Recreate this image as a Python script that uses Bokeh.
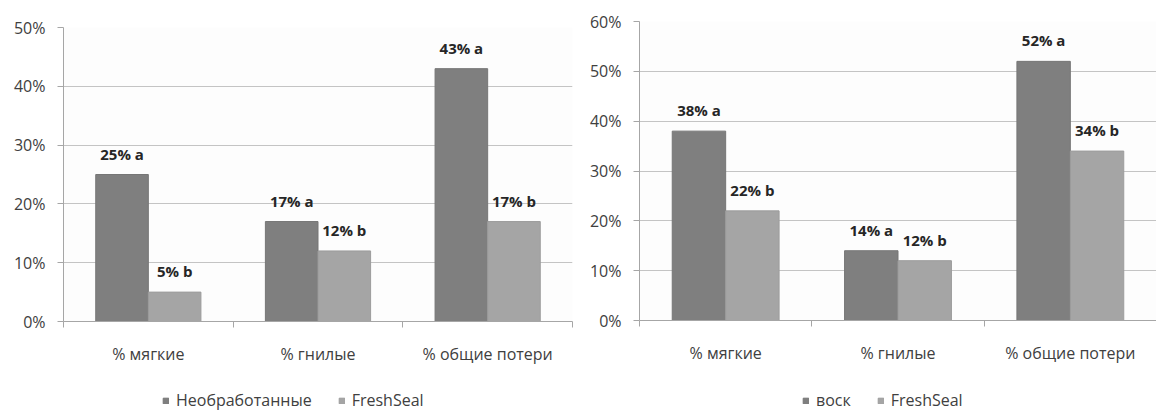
import numpy as np
from bokeh.plotting import figure
from bokeh.layouts import row, column
from bokeh.models import (ColumnDataSource, Range1d, FixedTicker, NumeralTickFormatter,
                          Legend, LegendItem)
from bokeh.embed import file_html
from bokeh.resources import INLINE
from bokeh.core.properties import value

categories = ["% мягкие", "% гнилые", "% общие потери"]

# Left chart
left_series = ["Необработанные", "FreshSeal"]
left_untreated = [0.25, 0.17, 0.43]
left_fresh = [0.05, 0.12, 0.17]
left_untreated_labels = ["25% a", "17% a", "43% a"]
left_fresh_labels = ["5% b", "12% b", "17% b"]
left_ymax = 0.5

# Right chart
right_series = ["воск", "FreshSeal"]
right_wax = [0.38, 0.14, 0.52]
right_fresh = [0.22, 0.12, 0.34]
right_wax_labels = ["38% a", "14% a", "52% a"]
right_fresh_labels = ["22% b", "12% b", "34% b"]
right_ymax = 0.6

FONT = "Open Sans"
DARK = "#7f7f7f"
LIGHT = "#a5a5a5"
GRID = "#c4c4c4"
AXIS = "#a6a6a6"
TEXT = "#404040"
BAR_W = 0.31
LEG_H = 30


def make_chart(names, v1, v2, l1, l2, ymax, fw, fh, frame_top, right_border, legend_loc):
    n = len(categories)
    centers = np.arange(n) + 0.5
    src1 = ColumnDataSource(dict(x=centers - BAR_W / 2, top=v1, lab=l1))
    src2 = ColumnDataSource(dict(x=centers + BAR_W / 2, top=v2, lab=l2))

    p = figure(frame_width=fw, frame_height=fh, output_backend="svg", toolbar_location=None,
               x_range=Range1d(0, n), y_range=Range1d(0, ymax),
               min_border_left=63, min_border_right=right_border,
               min_border_top=frame_top, min_border_bottom=412 - LEG_H - frame_top - fh)
    p.outline_line_color = None
    p.background_fill_color = "#fdfdfd"
    p.border_fill_color = "white"

    p.vbar(x="x", top="top", width=BAR_W, source=src1, fill_color=DARK,
           line_color="#767676", line_width=1)
    p.vbar(x="x", top="top", width=BAR_W, source=src2, fill_color=LIGHT,
           line_color="#9c9c9c", line_width=1)

    for src in (src1, src2):
        p.text(x="x", y="top", text="lab", source=src, text_align="center",
               text_baseline="middle", y_offset=-21, text_font=value(FONT),
               text_font_size="15px", text_font_style="bold", text_color="#262626")

    # y axis
    p.yaxis.ticker = FixedTicker(ticks=list(np.round(np.arange(0, ymax + 1e-9, 0.1), 2)))
    p.yaxis.formatter = NumeralTickFormatter(format="0%")
    p.yaxis.axis_line_color = AXIS
    p.yaxis.major_tick_line_color = AXIS
    p.yaxis.major_tick_out = 6
    p.yaxis.major_tick_in = 0
    p.yaxis.minor_tick_line_color = None
    p.yaxis.major_label_standoff = 12
    p.yaxis.major_label_text_font = FONT
    p.yaxis.major_label_text_font_size = "16px"
    p.yaxis.major_label_text_color = TEXT

    # x axis: labels at centers, tick marks at category boundaries
    p.xaxis.ticker = FixedTicker(ticks=list(centers), minor_ticks=list(np.arange(n + 1)))
    p.xaxis.major_label_overrides = {float(c): cat for c, cat in zip(centers, categories)}
    p.xaxis.major_tick_line_color = None
    p.xaxis.minor_tick_line_color = AXIS
    p.xaxis.minor_tick_out = 6
    p.xaxis.minor_tick_in = 0
    p.xaxis.axis_line_color = AXIS
    p.xaxis.major_label_standoff = 15
    p.xaxis.major_label_text_font = FONT
    p.xaxis.major_label_text_font_size = "16px"
    p.xaxis.major_label_text_color = TEXT

    p.xgrid.grid_line_color = None
    p.ygrid.grid_line_color = GRID
    p.ygrid.grid_line_width = 1

    # legend strip below the chart (series glyphs fall outside its visible range)
    lf = figure(frame_width=fw, frame_height=LEG_H, output_backend="svg", toolbar_location=None,
                x_range=Range1d(0, n), y_range=Range1d(2, 3), x_axis_type=None,
                y_axis_type=None, min_border_left=63, min_border_right=right_border,
                min_border_top=0, min_border_bottom=0)
    lf.outline_line_color = None
    lf.grid.grid_line_color = None
    lr1 = lf.vbar(x="x", top="top", width=BAR_W, source=src1, fill_color=DARK,
                  line_color="#767676")
    lr2 = lf.vbar(x="x", top="top", width=BAR_W, source=src2, fill_color=LIGHT,
                  line_color="#9c9c9c")
    legend = Legend(items=[LegendItem(label=names[0], renderers=[lr1]),
                           LegendItem(label=names[1], renderers=[lr2])],
                    orientation="horizontal", location=legend_loc,
                    border_line_color=None, background_fill_alpha=0,
                    glyph_width=7, glyph_height=7, label_text_font=FONT,
                    label_text_font_size="16px", label_text_color=TEXT,
                    spacing=26, label_standoff=7, padding=0, margin=0,
                    label_height=16)
    lf.add_layout(legend, "center")
    return column(p, lf, spacing=0)


c1 = make_chart(left_series, left_untreated, left_fresh, left_untreated_labels,
                left_fresh_labels, left_ymax, 509, 294, 27, 4, (99, 1))
c2 = make_chart(right_series, right_wax, right_fresh, right_wax_labels,
                right_fresh_labels, right_ymax, 517, 299, 21, 0, (163, 1))

layout = row(c1, c2, spacing=0)
open("out.html", "w").write(file_html(layout, INLINE))
